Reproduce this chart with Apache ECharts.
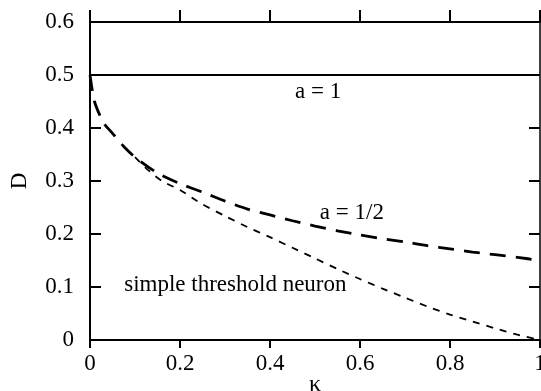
<!DOCTYPE html>
<html><head><meta charset="utf-8">
<script src="https://cdn.jsdelivr.net/npm/echarts@6/dist/echarts.min.js"></script>
<style>html,body{margin:0;padding:0;background:#fff}#c{width:541px;height:391px}</style>
</head><body><div id="c"></div>
<script>
// κ values and D values
const kappaA1 = [0, 1];
const dA1 = [0.5, 0.5];

const kappaHalf = [0, 0.01, 0.03, 0.05, 0.075, 0.1, 0.15, 0.2, 0.25, 0.3, 0.35, 0.4, 0.45, 0.5, 0.55, 0.6, 0.65, 0.7, 0.75, 0.8, 0.85, 0.9, 0.95, 1.0];
const dHalf = [0.5, 0.45, 0.41, 0.39, 0.365, 0.345, 0.315, 0.295, 0.279, 0.262, 0.247, 0.236, 0.225, 0.215, 0.206, 0.198, 0.191, 0.185, 0.178, 0.172, 0.166, 0.161, 0.156, 0.15];

const kappaSimple = [0.1, 0.13, 0.16, 0.2, 0.25, 0.3, 0.35, 0.4, 0.45, 0.5, 0.55, 0.6, 0.65, 0.7, 0.75, 0.8, 0.85, 0.9, 0.95, 1.0];
const dSimple = [0.345, 0.32, 0.30, 0.283, 0.256, 0.234, 0.213, 0.194, 0.174, 0.154, 0.134, 0.115, 0.097, 0.08, 0.063, 0.048, 0.035, 0.022, 0.01, 0.0];

const xTicks = ['0', '0.2', '0.4', '0.6', '0.8', '1'];
const yTicks = ['0', '0.1', '0.2', '0.3', '0.4', '0.5', '0.6'];

const annotText = ['a = 1', 'a = 1/2', 'simple threshold neuron'];
const annotKappa = [0.507, 0.582, 0.323];
const annotD = [0.468, 0.24, 0.104];

const zip = (a, b) => a.map((v, i) => [v, b[i]]);
const font = 'Liberation Serif';
const fmtX = v => { const i = Math.round(v / 0.2); return Math.abs(v - i * 0.2) < 1e-6 ? xTicks[i] : ''; };
const fmtY = v => { const i = Math.round(v / 0.1); return Math.abs(v - i * 0.1) < 1e-6 ? yTicks[i] : ''; };

const chart = echarts.init(document.getElementById('c'), null, {renderer: 'canvas'});
const axisLineStyle = {color: '#000', width: 2};
chart.setOption({
  animation: false,
  backgroundColor: '#fff',
  grid: {left: 90, right: 1, top: 22, bottom: 51, containLabel: false, outerBoundsMode: 'none'},
  xAxis: [{
    type: 'value', min: 0, max: 1, interval: 0.2, position: 'bottom',
    name: 'κ', nameLocation: 'middle', nameGap: 33, nameMoveOverlap: false,
    nameTextStyle: {fontFamily: font, fontSize: 24, color: '#000', verticalAlign: 'top'},
    axisLine: {show: true, onZero: false, lineStyle: axisLineStyle},
    axisTick: {show: true, inside: false, length: 8, lineStyle: axisLineStyle},
    axisLabel: {fontFamily: font, fontSize: 23, color: '#000', margin: 12, formatter: fmtX, showMaxLabel: true},
    splitLine: {show: false}
  }, {
    type: 'value', min: 0, max: 1, interval: 0.2, position: 'top',
    axisLine: {show: true, onZero: false, lineStyle: axisLineStyle},
    axisTick: {show: true, inside: false, length: 12, lineStyle: axisLineStyle},
    axisLabel: {show: false}, splitLine: {show: false}
  }],
  yAxis: [{
    type: 'value', min: 0, max: 0.6, interval: 0.1, position: 'left',
    name: 'D', nameLocation: 'middle', nameGap: 70, nameRotate: 90, nameMoveOverlap: false,
    nameTextStyle: {fontFamily: font, fontSize: 23, color: '#000', verticalAlign: 'middle'},
    axisLine: {show: true, onZero: false, lineStyle: axisLineStyle},
    axisTick: {show: true, inside: true, length: 11, lineStyle: axisLineStyle},
    axisLabel: {fontFamily: font, fontSize: 23, color: '#000', margin: 16, formatter: fmtY},
    splitLine: {show: false}
  }, {
    type: 'value', min: 0, max: 0.6, interval: 0.1, position: 'right',
    axisLine: {show: true, onZero: false, lineStyle: {color: '#000', width: 1.5}},
    axisTick: {show: true, inside: true, length: 11, lineStyle: axisLineStyle},
    axisLabel: {show: false}, splitLine: {show: false}
  }],
  series: [{
    name: 'a = 1', type: 'line', data: zip(kappaA1, dA1), showSymbol: false,
    lineStyle: {color: '#000', width: 2, type: 'solid'}
  }, {
    name: 'a = 1/2', type: 'line', data: zip(kappaHalf, dHalf), showSymbol: false, smooth: 0.25,
    lineStyle: {color: '#000', width: 2.8, type: [16, 10]}
  }, {
    name: 'simple threshold neuron', type: 'line', data: zip(kappaSimple, dSimple), showSymbol: false, smooth: 0.25,
    lineStyle: {color: '#000', width: 1.8, type: [7, 7]}
  }, {
    name: 'labels', type: 'scatter', symbolSize: 0, silent: true,
    itemStyle: {opacity: 1},
    data: annotText.map((t, i) => ({value: [annotKappa[i], annotD[i]], name: t})),
    label: {show: true, position: 'inside', formatter: p => p.name, fontFamily: font, fontSize: 23,
            color: '#000', opacity: 1, textBorderWidth: 0}
  }]
});
// extend the left axis line above the top frame line, like the reference
const x0 = chart.convertToPixel({xAxisIndex: 0}, 0);
const yTop = chart.convertToPixel({yAxisIndex: 0}, 0.6);
chart.setOption({graphic: [{type: 'line', shape: {x1: x0, y1: yTop, x2: x0, y2: yTop - 12}, style: {stroke: '#000', lineWidth: 2}}]});
</script></body></html>
